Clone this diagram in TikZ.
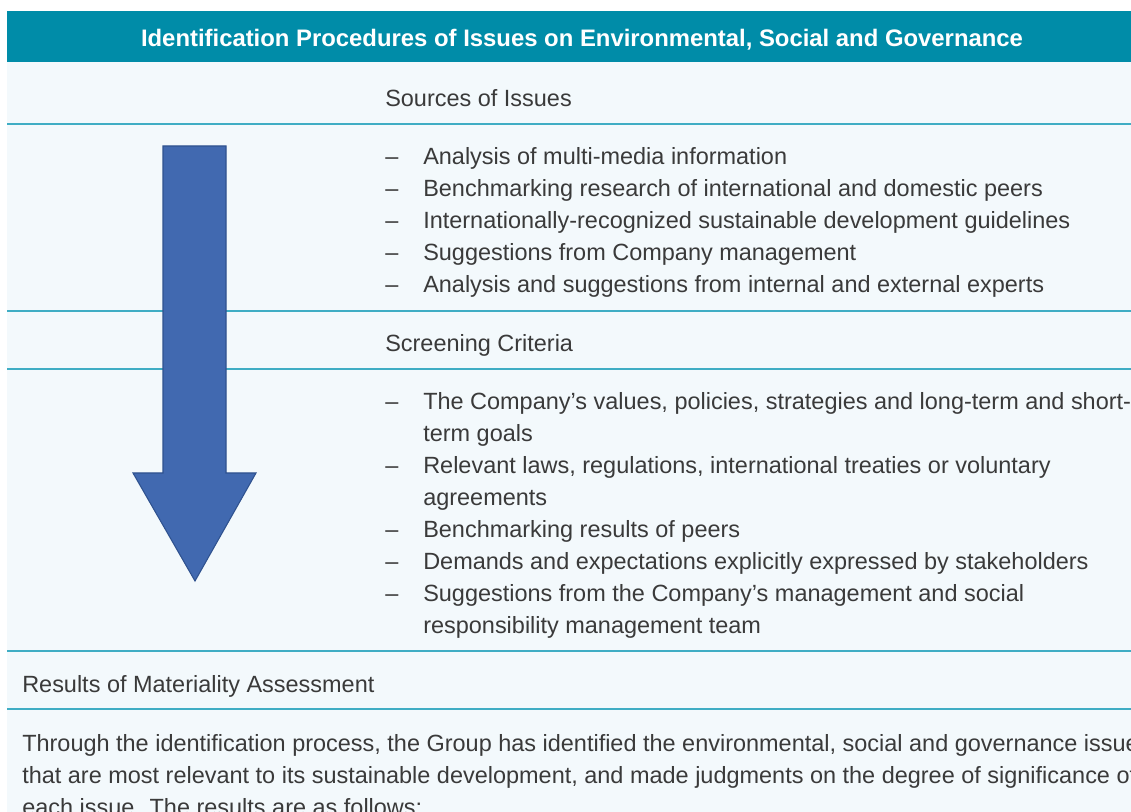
\documentclass[tikz,border=0pt]{standalone}
\usepackage{fontspec}
\setmainfont{Liberation Sans}
\definecolor{headfill}{HTML}{008CA8}
\definecolor{bgfill}{HTML}{F3F9FC}
\definecolor{rulecol}{HTML}{3FADC4}
\definecolor{txt}{HTML}{3A3A3A}
\definecolor{arrfill}{HTML}{4169B0}
\definecolor{arrline}{HTML}{2F528F}
\tikzset{
  headtext/.style={text=white,font=\fontsize{17.9}{20}\selectfont\bfseries,inner sep=0pt},
  body/.style={text=txt,font=\fontsize{17.6}{20}\selectfont,anchor=base west,inner sep=0pt},
  rowrule/.style={draw=rulecol,line width=1.1pt},
  flowarrow/.style={fill=arrfill,draw=arrline,line width=0.8pt,line join=miter}
}
\begin{document}
\begin{tikzpicture}[x=0.75pt,y=-0.75pt]
\useasboundingbox (0,0) rectangle (1131,812);
\clip (0,0) rectangle (1131,812);
\fill[bgfill] (7,62) rectangle (1131,812);
\fill[headfill] (7,11) rectangle (1131,62);
\node[headtext] (title) at (582,39.5) {Identification Procedures of Issues on Environmental, Social and Governance};
% row rules
\draw[rowrule] (7,124) -- (1131,124);
\draw[rowrule] (7,311) -- (1131,311);
\draw[rowrule] (7,369) -- (1131,369);
\draw[rowrule] (7,651) -- (1131,651);
\draw[rowrule] (7,709) -- (1131,709);
% arrow
\filldraw[flowarrow] (163,146) -- (226,146) -- (226,473) -- (256,473) -- (195,581) -- (133,473) -- (163,473) -- cycle;
% sources
\node[body] (src) at (385,106.5) {Sources of Issues};
\node[body] (d1) at (385,164.5) {–};
\node[body] (s1) at (423,164.5) {Analysis of multi-media information};
\node[body] (d2) at (385,196.5) {–};
\node[body] (s2) at (423,196.5) {Benchmarking research of international and domestic peers};
\node[body] (d3) at (385,228.5) {–};
\node[body] (s3) at (423,228.5) {Internationally-recognized sustainable development guidelines};
\node[body] (d4) at (385,260.5) {–};
\node[body] (s4) at (423,260.5) {Suggestions from Company management};
\node[body] (d5) at (385,292.5) {–};
\node[body] (s5) at (423,292.5) {Analysis and suggestions from internal and external experts};
% screening
\node[body] (scr) at (385,351.5) {Screening Criteria};
\node[body] (e1) at (385,409.5) {–};
\node[body] (c1) at (423,409.5) {The Company’s values, policies, strategies and long-term and short-};
\node[body] (c1b) at (423,441.5) {term goals};
\node[body] (e2) at (385,473.5) {–};
\node[body] (c2) at (423,473.5) {Relevant laws, regulations, international treaties or voluntary};
\node[body] (c2b) at (423,505.5) {agreements};
\node[body] (e3) at (385,537.5) {–};
\node[body] (c3) at (423,537.5) {Benchmarking results of peers};
\node[body] (e4) at (385,569.5) {–};
\node[body] (c4) at (423,569.5) {Demands and expectations explicitly expressed by stakeholders};
\node[body] (e5) at (385,601.5) {–};
\node[body] (c5) at (423,601.5) {Suggestions from the Company’s management and social};
\node[body] (c5b) at (423,633.5) {responsibility management team};
% results
\node[body] (res) at (22,692.5) {Results of Materiality Assessment};
\node[body] (p1) at (22,751.5) {Through the identification process, the Group has identified the environmental, social and governance issues};
\node[body] (p2) at (22,783.5) {that are most relevant to its sustainable development, and made judgments on the degree of significance of};
\node[body] (p3) at (22,815.5) {each issue. The results are as follows:};
\end{tikzpicture}
\end{document}
